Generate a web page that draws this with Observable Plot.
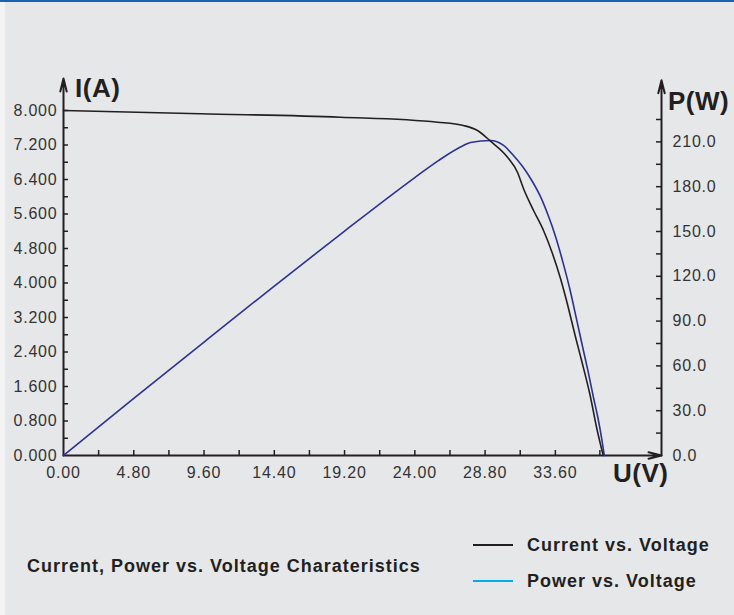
<!DOCTYPE html>
<html><head><meta charset="utf-8">
<script src="https://cdn.jsdelivr.net/npm/d3@7"></script>
<script src="https://cdn.jsdelivr.net/npm/@observablehq/plot@0.6"></script>
<style>
body{margin:0;background:#fff;}
#page{position:relative;width:734px;height:615px;background:#e6e7e9;overflow:hidden;font-family:"Liberation Sans",Arial,sans-serif;}
#topline{position:absolute;left:0;top:0;width:734px;height:2px;background:#1a63b0;}
#leftstrip{position:absolute;left:0;top:2px;width:5px;height:613px;background:#f3f3f4;}
#chart{position:absolute;left:0;top:0;}
.lbl{position:absolute;font-weight:bold;color:#231f20;white-space:nowrap;line-height:1;}
.ax{font-size:26px;letter-spacing:0.5px;}
.ft{font-size:18px;letter-spacing:1px;}
.sw{position:absolute;left:473px;width:40px;height:2px;}
</style></head>
<body><div id="page">
<div id="topline"></div><div id="leftstrip"></div>
<div id="chart"></div>
<div class="lbl ax" style="left:75px;top:75px">I(A)</div>
<div class="lbl ax" style="left:668px;top:88px">P(W)</div>
<div class="lbl ax" style="left:613px;top:460px">U(V)</div>
<div class="lbl ft" style="left:27px;top:557px">Current, Power vs. Voltage Charateristics</div>
<div class="sw" style="top:544px;background:#231f20"></div>
<div class="lbl ft" style="left:527px;top:536px">Current vs. Voltage</div>
<div class="sw" style="top:580px;background:#00aeef"></div>
<div class="lbl ft" style="left:527px;top:572px">Power vs. Voltage</div>
</div>
<script>
// ---- data ----
const voltageI = [0, 9.34, 18.91, 25.55, 27.32, 28.28, 29.17, 30.33, 31.01, 31.42, 32.11, 32.79, 33.40, 33.95, 34.36, 34.98, 35.43, 35.95, 36.46, 36.87];
const currentA = [8.000, 7.924, 7.845, 7.729, 7.652, 7.536, 7.288, 6.917, 6.569, 6.191, 5.681, 5.217, 4.684, 4.104, 3.594, 2.743, 2.150, 1.431, 0.580, 0];
const voltageP = [0, 4.8, 9.6, 14.4, 19.2, 24.0, 25.61, 27.32, 27.80, 29.17, 30.06, 30.74, 31.40, 32.0, 32.6, 33.1, 33.6, 34.1, 34.6, 35.09, 35.5, 35.82, 36.2, 36.5, 36.82, 36.94];
const powerW   = [0, 38.2, 76.0, 113.5, 150.3, 186.1, 197.5, 207.6, 209.6, 210.9, 207.6, 200.9, 193.0, 184.0, 173.0, 161.0, 147.0, 130.0, 111.0, 89.3, 71.0, 57.0, 39.0, 25.6, 8.0, 0];
const xTickLabels = [0, 4.8, 9.6, 14.4, 19.2, 24.0, 28.8, 33.6];
const xMinorTicks = [2.4, 7.2, 12.0, 16.8, 21.6, 26.4, 31.2, 36.64];
const iTickLabels = [0, 0.8, 1.6, 2.4, 3.2, 4.0, 4.8, 5.6, 6.4, 7.2, 8.0];
const iMinorTicks = [0.4, 1.2, 2.0, 2.8, 3.6, 4.4, 5.2, 6.0, 6.8, 7.6];
const pTickLabels = [0, 30, 60, 90, 120, 150, 180, 210];
const pMinorTicks = [15, 45, 75, 105, 135, 165, 195, 225];

// ---- layout ----
const W = 734, H = 500;
const mL = 63, mR = 73, mT = 78, mB = 45;
const frameW = W - mL - mR, frameH = H - mT - mB;
const xMax = 40.85, iTop = 8.742, pTop = 252.45;
const k = iTop / pTop; // watts -> amp-axis units
const ink = "#231f20";

const cur = voltageI.map((v, i) => ({v, a: currentA[i]}));
const pow = voltageP.map((v, i) => ({v, p: powerW[i]}));

const chart = Plot.plot({
  width: W, height: H,
  marginLeft: mL, marginRight: mR, marginTop: mT, marginBottom: mB,
  x: {domain: [0, xMax]},
  y: {domain: [0, iTop]},
  style: {fontFamily: "'Liberation Sans', Arial, sans-serif", fontSize: "16px", letterSpacing: "0.8px", color: "#333", background: "transparent", overflow: "visible"},
  marks: [
    // tick marks (pointing inside)
    Plot.tickX(xMinorTicks.concat(xTickLabels.slice(1)), {x: d => d, insetTop: frameH - 5, stroke: ink, strokeWidth: 1.5}),
    Plot.tickY(iMinorTicks.concat(iTickLabels.slice(1)), {y: d => d, insetRight: frameW - 5, stroke: ink, strokeWidth: 1.5}),
    Plot.tickY(pMinorTicks.concat(pTickLabels.slice(1)), {y: d => d * k, insetLeft: frameW - 5, stroke: ink, strokeWidth: 1.5}),
    // tick labels
    Plot.axisX(xTickLabels, {tickSize: 0, tickPadding: 11, fontSize: 16, tickFormat: d => d.toFixed(2), label: null}),
    Plot.axisY(iTickLabels, {anchor: "left", tickSize: 0, tickPadding: 6, fontSize: 16, tickFormat: d => d.toFixed(3), label: null}),
    Plot.axisY(pTickLabels.map(p => p * k), {anchor: "right", tickSize: 0, tickPadding: 11, fontSize: 16, tickFormat: d => (d / k).toFixed(1), label: null}),
    // axis lines with arrows
    Plot.arrow([0], {x1: 0, y1: 0, x2: 0, y2: iTop, stroke: ink, strokeWidth: 2, headLength: 10, headAngle: 28}),
    Plot.arrow([0], {x1: 0, y1: 0, x2: xMax, y2: 0, stroke: ink, strokeWidth: 2, headLength: 10, headAngle: 28}),
    Plot.arrow([0], {x1: xMax, y1: 0, x2: xMax, y2: 8.70, stroke: ink, strokeWidth: 2, headLength: 10, headAngle: 28}),
    // curves
    Plot.line(pow, {x: "v", y: d => d.p * k, stroke: "#2e3192", strokeWidth: 1.6, curve: "monotone-x"}),
    Plot.line(cur, {x: "v", y: "a", stroke: ink, strokeWidth: 1.6, curve: "monotone-x"})
  ]
});
document.getElementById("chart").appendChild(chart);
</script>
</body></html>
